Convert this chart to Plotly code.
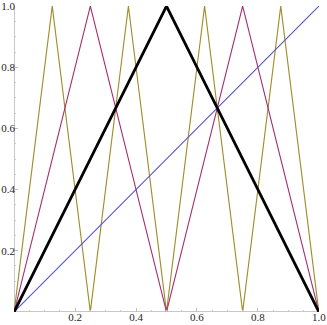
import plotly.graph_objects as go

# ---- data: tent map and its iterates ----
x_diag = [0, 1]
y_diag = [0, 1]

x_t1 = [0, 0.5, 1]
y_t1 = [0, 1, 0]

x_t2 = [0, 0.25, 0.5, 0.75, 1]
y_t2 = [0, 1, 0, 1, 0]

x_t3 = [0, 0.125, 0.25, 0.375, 0.5, 0.625, 0.75, 0.875, 1]
y_t3 = [0, 1, 0, 1, 0, 1, 0, 1, 0]

tick_vals = [0.2, 0.4, 0.6, 0.8, 1.0]
tick_text = ['0.2', '0.4', '0.6', '0.8', '1.0']

fig = go.Figure()
fig.add_trace(go.Scatter(x=x_t3, y=y_t3, mode='lines', cliponaxis=False,
                         line=dict(color='rgb(160,140,40)', width=1.1)))
fig.add_trace(go.Scatter(x=x_t2, y=y_t2, mode='lines', cliponaxis=False,
                         line=dict(color='rgb(165,45,115)', width=1.1)))
fig.add_trace(go.Scatter(x=x_diag, y=y_diag, mode='lines', cliponaxis=False,
                         line=dict(color='rgb(85,85,200)', width=1.1)))
fig.add_trace(go.Scatter(x=x_t1, y=y_t1, mode='lines', cliponaxis=False,
                         line=dict(color='black', width=2.8)))

axis_style = dict(
    range=[-0.0005, 1.0005],
    automargin=False,
    showgrid=False,
    zeroline=False,
    showline=False,
    tickmode='array',
    tickvals=tick_vals,
    ticktext=tick_text,
    ticks='inside',
    ticklen=4,
    tickwidth=1,
    tickcolor='rgb(190,190,190)',
    tickfont=dict(family='Liberation Serif', size=11, color='rgb(30,30,30)'),
    minor=dict(tickmode='array', tickvals=[i * 0.05 for i in range(1, 20) if i % 4],
               ticks='inside', ticklen=2, tickcolor='rgb(200,200,200)'),
)

fig.update_layout(
    width=327, height=325,
    margin=dict(l=14, r=8, t=6, b=13),
    paper_bgcolor='white',
    plot_bgcolor='white',
    showlegend=False,
    xaxis=dict(axis_style, ticklabelstandoff=-3),
    yaxis=dict(axis_style, ticklabelstandoff=-2),
)

# axis lines through the origin
fig.add_shape(type='line', x0=0, x1=1, y0=0, y1=0, xref='x', yref='y',
              line=dict(color='rgb(170,170,170)', width=1), layer='below')
fig.add_shape(type='line', x0=0, x1=0, y0=0, y1=1, xref='x', yref='y',
              line=dict(color='rgb(170,170,170)', width=1), layer='below')

# the page body has a default 8px margin, drop it so the figure sits at the corner
fig.write_html("out.html", config={'displayModeBar': False},
               post_script="document.body.style.margin='0';")
